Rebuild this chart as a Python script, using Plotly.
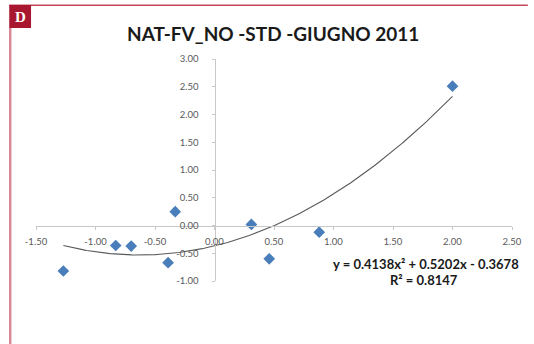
import numpy as np
import plotly.graph_objects as go

# Observed points
x_vals = [-1.27, -0.83, -0.70, -0.39, -0.33, 0.31, 0.46, 0.88, 2.00]
y_vals = [-0.82, -0.36, -0.37, -0.67, 0.25, 0.02, -0.60, -0.12, 2.51]

# Second-order polynomial trend (a, b, c) and its R²
trend_coef = [0.4138, 0.5202, -0.3678]
r_squared = 0.8147

x_ticks = [-1.5, -1.0, -0.5, 0.0, 0.5, 1.0, 1.5, 2.0, 2.5]
y_ticks = [-1.0, -0.5, 0.0, 0.5, 1.0, 1.5, 2.0, 2.5, 3.0]

W, H = 534, 344
L, R, T, B = 36, 18, 59, 63
PW, PH = W - L - R, H - T - B


def px(x):
    return (x - L) / PW


def py(y):
    return 1 - (y - T) / PH


a, b, c = trend_coef
xs = np.linspace(min(x_vals), max(x_vals), 200)
ys = a * xs ** 2 + b * xs + c

fig = go.Figure()
fig.add_trace(go.Scatter(
    x=xs, y=ys, mode="lines",
    line=dict(color="#5a5a5a", width=1.1),
    hoverinfo="skip", showlegend=False,
))
fig.add_trace(go.Scatter(
    x=x_vals, y=y_vals, mode="markers",
    marker=dict(symbol="diamond", size=9, color="#4a7ebb"),
    showlegend=False,
))

tickfont = dict(family="Lato, Calibri, sans-serif", size=9.5, color="#595959")
fig.update_xaxes(
    range=[-1.5, 2.5], tickvals=x_ticks,
    ticktext=[f"{v:.2f}" for v in x_ticks],
    anchor="free", position=(0 - (-1.0)) / 4.0,
    showline=True, linecolor="#c8c8c8", linewidth=1,
    ticks="outside", ticklen=3, tickcolor="#c8c8c8",
    ticklabelstandoff=4,
    showgrid=False, zeroline=False, tickfont=tickfont,
)
fig.update_yaxes(
    range=[-1.0, 3.0], tickvals=y_ticks,
    ticktext=[f"{v:.2f}" for v in y_ticks],
    anchor="free", position=(0 - (-1.5)) / 4.0,
    showline=True, linecolor="#c8c8c8", linewidth=1,
    ticks="outside", ticklen=3, tickcolor="#c8c8c8",
    ticklabelstandoff=11,
    showgrid=False, zeroline=False, tickfont=tickfont,
)

shapes = [
    # top rule
    dict(type="rect", xref="paper", yref="paper",
         x0=px(9), x1=px(W - 2), y0=py(6), y1=py(4.5),
         fillcolor="#c8455a", line=dict(width=0)),
    # left rule
    dict(type="rect", xref="paper", yref="paper",
         x0=px(8.8), x1=px(11.2), y0=py(H), y1=py(28),
         fillcolor="#d88595", line=dict(width=0)),
    # panel letter box
    dict(type="rect", xref="paper", yref="paper",
         x0=px(9), x1=px(31), y0=py(28), y1=py(5),
         fillcolor="#a8172f", line=dict(width=0)),
]

annotations = [
    dict(text="<b>D</b>", xref="paper", yref="paper", x=px(20), y=py(16.5),
         showarrow=False, font=dict(family="Liberation Serif, serif", size=15, color="white"),
         xanchor="center", yanchor="middle"),
    dict(text="<b>NAT-FV_NO -STD -GIUGNO 2011</b>", xref="paper", yref="paper",
         x=px(275), y=py(33), showarrow=False,
         font=dict(family="Lato, Calibri, sans-serif", size=19, color="#1a1a1a"),
         xanchor="center", yanchor="middle"),
    dict(text=f"<b>y = {a}x² + {b}x - {abs(c)}</b>", xref="paper", yref="paper",
         x=px(429), y=py(264), showarrow=False,
         font=dict(family="Lato, Calibri, sans-serif", size=13, color="#1a1a1a"),
         xanchor="center", yanchor="middle"),
    dict(text=f"<b>R² = {r_squared}</b>", xref="paper", yref="paper",
         x=px(427), y=py(280), showarrow=False,
         font=dict(family="Lato, Calibri, sans-serif", size=13, color="#1a1a1a"),
         xanchor="center", yanchor="middle"),
]

fig.update_layout(
    width=W, height=H,
    margin=dict(l=L, r=R, t=T, b=B),
    paper_bgcolor="white", plot_bgcolor="white",
    shapes=shapes, annotations=annotations,
)

fig.write_html("out.html", config={"displayModeBar": False})
